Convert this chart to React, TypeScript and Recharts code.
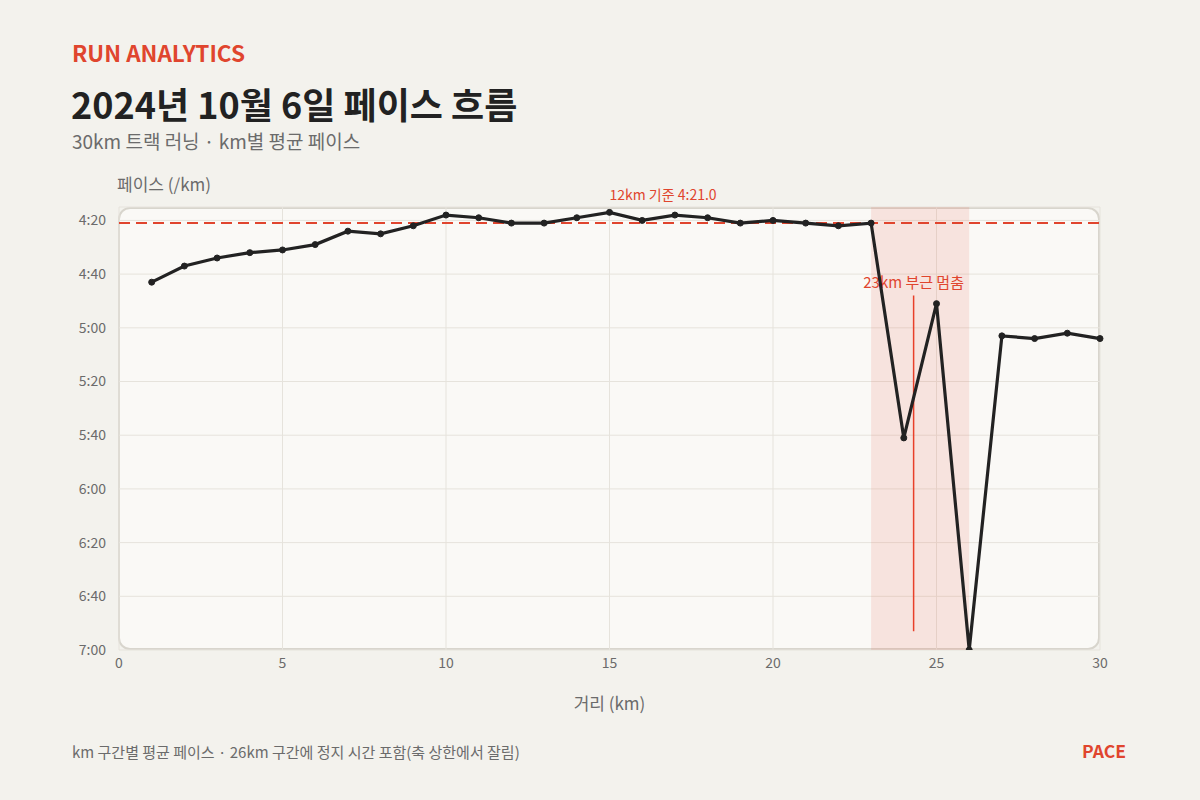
import React from 'react';
import {
  LineChart,
  Line,
  XAxis,
  YAxis,
  CartesianGrid,
  ReferenceLine,
  ReferenceArea,
} from 'recharts';

const kms = [1, 2, 3, 4, 5, 6, 7, 8, 9, 10, 11, 12, 13, 14, 15, 16, 17, 18, 19, 20, 21, 22, 23, 24, 25, 26, 27, 28, 29, 30];
// pace in seconds per km (26km clipped at axis maximum 7:00)
const paceSec = [283, 277, 274, 272, 271, 269, 264, 265, 262, 258, 259, 261, 261, 259, 257, 260, 258, 259, 261, 260, 261, 262, 261, 341, 291, 420, 303, 304, 302, 304];
const yTicks = [260, 280, 300, 320, 340, 360, 380, 400, 420];
const xTicks = [0, 5, 10, 15, 20, 25, 30];
const refPace = 261;
const refLabel = '12km 기준 4:21.0';
const stopRange = [23, 26];
const stopMarkX = 24.3;
const stopMarkY = [288, 413];
const stopLabel = '23km 부근 멈춤';

const data = kms.map((km, i) => ({ km, pace: paceSec[i] }));

const FONT = '"Noto Sans CJK KR", "Noto Sans", sans-serif';
const RED = '#e0452e';

const fmt = (s: number) => {
  const m = Math.floor(s / 60);
  const r = Math.round(s % 60);
  return `${m}:${r.toString().padStart(2, '0')}`;
};

const RefLabel = (props: any) => {
  const vb = props.viewBox || {};
  return (
    <text x={vb.x + vb.width / 2} y={vb.y - 23} fill={RED} fontSize={14} textAnchor="start" fontFamily={FONT}>
      {refLabel}
    </text>
  );
};

const StopLabel = (props: any) => {
  const vb = props.viewBox || {};
  return (
    <text x={vb.x} y={vb.y - 8} fill={RED} fontSize={15} textAnchor="middle" fontFamily={FONT}>
      {stopLabel}
    </text>
  );
};

export default function App() {
  return (
    <div
      style={{
        position: 'absolute',
        left: 0,
        top: 0,
        width: 1200,
        height: 800,
        background: '#f3f2ed',
        fontFamily: FONT,
        overflow: 'hidden',
      }}
    >
      <div style={{ position: 'absolute', left: 72, top: 37, fontSize: 22.5, fontWeight: 700, color: RED, lineHeight: '30px' }}>
        RUN ANALYTICS
      </div>
      <div style={{ position: 'absolute', left: 71, top: 79, fontSize: 36, fontWeight: 700, color: '#222', lineHeight: '48px' }}>
        2024년 10월 6일 페이스 흐름
      </div>
      <div style={{ position: 'absolute', left: 72, top: 128, fontSize: 19, color: '#6b6b6b', lineHeight: '26px' }}>
        30km 트랙 러닝 · km별 평균 페이스
      </div>
      <div style={{ position: 'absolute', left: 117, top: 172, fontSize: 17, color: '#6b6b6b', lineHeight: '24px' }}>
        페이스 (/km)
      </div>
      <div
        style={{
          position: 'absolute',
          left: 118,
          top: 207,
          width: 982,
          height: 443,
          boxSizing: 'border-box',
          border: '2px solid #d8d5cd',
          borderRadius: 12,
          background: '#faf9f6',
        }}
      />
      <div style={{ position: 'absolute', left: 0, top: 0 }}>
        <LineChart width={1200} height={800} data={data} margin={{ top: 207, right: 100, bottom: 90, left: 0 }}>
          <CartesianGrid stroke="#e6e3dc" strokeWidth={1} vertical horizontal />
          <ReferenceArea x1={stopRange[0]} x2={stopRange[1]} fill="#e8553c" fillOpacity={0.13} stroke="none" ifOverflow="visible" />
          <XAxis
            dataKey="km"
            type="number"
            domain={[0, 30]}
            ticks={xTicks}
            tickLine={false}
            axisLine={false}
            height={60}
            tick={{ fill: '#6b6b6b', fontSize: 14, fontFamily: FONT }}
            label={{ value: '거리 (km)', position: 'insideBottom', offset: 0, fill: '#6b6b6b', fontSize: 17, fontFamily: FONT }}
          />
          <YAxis
            type="number"
            domain={[255, 420]}
            ticks={yTicks}
            reversed
            allowDataOverflow
            tickFormatter={fmt}
            tickLine={false}
            axisLine={false}
            width={119}
            tickMargin={7}
            tick={{ fill: '#6b6b6b', fontSize: 14, fontFamily: FONT }}
          />
          <ReferenceLine y={refPace} stroke={RED} strokeWidth={2} strokeDasharray="11 6" label={<RefLabel />} />
          <ReferenceLine
            segment={[
              { x: stopMarkX, y: stopMarkY[0] },
              { x: stopMarkX, y: stopMarkY[1] },
            ]}
            stroke="#e8402a"
            strokeWidth={1.5}
            label={<StopLabel />}
          />
          <Line
            type="linear"
            dataKey="pace"
            stroke="#222"
            strokeWidth={3.2}
            dot={{ r: 3, fill: '#222', stroke: '#222', strokeWidth: 1 }}
            isAnimationActive={false}
          />
        </LineChart>
      </div>
      <div style={{ position: 'absolute', left: 72, top: 741, fontSize: 15, color: '#6b6b6b', lineHeight: '22px' }}>
        km 구간별 평균 페이스 · 26km 구간에 정지 시간 포함(축 상한에서 잘림)
      </div>
      <div style={{ position: 'absolute', right: 74, top: 739, fontSize: 17.5, fontWeight: 700, color: RED, lineHeight: '24px' }}>
        PACE
      </div>
    </div>
  );
}
